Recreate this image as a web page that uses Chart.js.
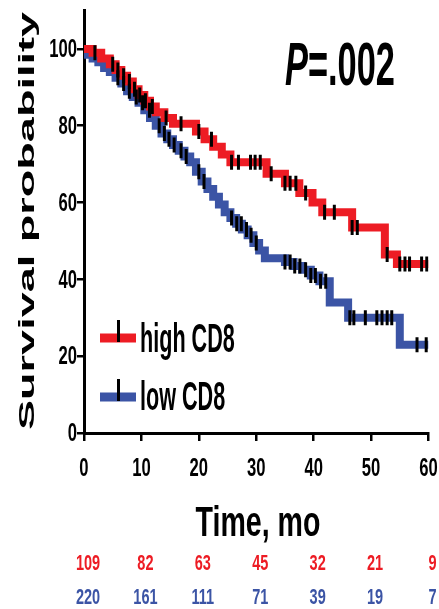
<!DOCTYPE html>
<html lang="en">
<head>
    <meta charset="UTF-8">
    <title>Survival by CD8</title>
    <script src="https://cdn.jsdelivr.net/npm/chart.js"></script>
    <style>
        body { margin: 0; background: #fff; }
        canvas { display: block; }
    </style>
</head>
<body>
    <canvas id="km" width="439" height="609"></canvas>

    <script>
        // Kaplan-Meier steps (time in months, survival in %)
        const highTime = [0, 1.5, 3, 4.5, 5.5, 6.5, 7.5, 8.5, 9.5, 10.5, 11.5, 12.5, 14, 15.5, 19.5, 21, 22.5, 24, 25.5, 31.8, 35, 37.5, 39.8, 41.5, 46.7, 52.4, 54.5, 60];
        const highSurv = [100, 99, 97.5, 96, 94.5, 93, 91.5, 89.5, 88, 86.5, 85, 83.5, 82, 80.5, 78.5, 76.5, 74.5, 72.5, 70.5, 67.5, 65, 62.5, 60, 57.5, 53.5, 46.5, 44, 44];
        const highCensor = [1.9, 5.0, 5.9, 6.9, 7.9, 8.8, 9.7, 10.7, 11.9, 14.3, 16.9, 20.0, 22.2, 25.7, 26.9, 29.0, 29.8, 30.7, 32.6, 35.0, 35.9, 36.9, 38.6, 41.9, 43.6, 46.7, 47.6, 52.8, 55.0, 55.9, 56.7, 58.8, 59.7];

        const lowTime = [0, 0.7, 1.5, 2.5, 3.5, 4.5, 5.5, 6.5, 7.5, 8.5, 9.5, 10.5, 11.5, 12.5, 13.5, 14.5, 15.5, 16.5, 17.5, 18.5, 19.5, 20.5, 21.5, 22.5, 23.5, 24.5, 25.5, 26.5, 27.5, 28.5, 29.5, 30.5, 31.5, 35, 36.5, 38, 39.5, 41, 42.8, 46, 55, 60];
        const lowSurv = [100, 98.5, 97.5, 96.5, 95, 94, 92.5, 91, 89, 87.5, 86, 84, 82, 80, 78, 76.5, 75, 73.5, 72, 70.5, 68, 65.5, 63.5, 61.5, 59.5, 57.5, 56, 54.5, 53, 51.5, 49.5, 47.5, 45.5, 44.5, 43.5, 42.5, 41, 39.5, 34, 30, 23, 23];
        const lowCensor = [5.9, 6.9, 7.9, 9.1, 10.2, 11.4, 13.1, 14.0, 14.8, 15.7, 16.9, 17.8, 20.0, 20.9, 25.7, 26.6, 27.4, 28.3, 29.1, 30.0, 35.0, 35.9, 36.7, 37.6, 38.6, 39.5, 40.3, 41.2, 42.1, 46.3, 47.0, 49.0, 51.0, 51.9, 52.8, 53.6, 58.0, 59.6];

        // number at risk
        const riskTimes = [0, 10, 20, 30, 40, 50, 60];
        const highRisk = [109, 82, 63, 45, 32, 21, 9];
        const lowRisk = [220, 161, 111, 71, 39, 19, 7];

        const yTicks = [0, 20, 40, 60, 80, 100];
        const xTicks = [0, 10, 20, 30, 40, 50, 60];

        const RED = '#ed1c24';
        const BLUE = '#3b54a5';
        const FONT = '"Liberation Sans", Arial, sans-serif';

        // survival value at time t (step function lookup)
        function survAt(times, surv, t) {
            let v = surv[0];
            for (let i = 0; i < times.length; i++) {
                if (times[i] <= t) v = surv[i];
            }
            return v;
        }

        function pts(times, surv) {
            return times.map((t, i) => ({ x: t, y: surv[i] }));
        }

        function censorPts(cens, times, surv) {
            return cens.map(t => ({ x: t, y: survAt(times, surv, t) }));
        }

        // squeezed bold text helper
        function txt(ctx, s, x, y, size, sx, align, color, baseline) {
            ctx.save();
            ctx.translate(x, y);
            ctx.scale(sx, 1);
            ctx.font = 'bold ' + size + 'px ' + FONT;
            ctx.textAlign = align;
            ctx.textBaseline = baseline || 'middle';
            ctx.fillStyle = color;
            ctx.fillText(s, 0, 0);
            ctx.restore();
        }

        const textPlugin = {
            id: 'kmText',
            afterDraw(chart) {
                const ctx = chart.ctx;
                const xs = chart.scales.x;
                const ys = chart.scales.y;

                // tick labels
                yTicks.forEach(v => txt(ctx, String(v), 77, ys.getPixelForValue(v) + 1, 26, 0.64, 'right', '#000'));
                xTicks.forEach(v => txt(ctx, String(v), xs.getPixelForValue(v), 469, 26, 0.64, 'center', '#000'));

                // y title, stretched along its length
                ctx.save();
                ctx.font = 'bold 22px ' + FONT;
                const w = ctx.measureText('Survival probability').width;
                ctx.translate(34, 221);
                ctx.rotate(-Math.PI / 2);
                ctx.scale(418 / w, 1);
                ctx.textAlign = 'center';
                ctx.textBaseline = 'alphabetic';
                ctx.fillStyle = '#000';
                ctx.fillText('Survival probability', 0, 0);
                ctx.restore();

                // x title
                txt(ctx, 'Time, mo', 258, 536, 42, 0.68, 'center', '#000', 'alphabetic');

                // P value
                ctx.save();
                ctx.font = 'italic bold 62px ' + FONT;
                const pw = ctx.measureText('P').width;
                ctx.font = 'bold 62px ' + FONT;
                const rw = ctx.measureText('=.002').width;
                const sx = 110 / (pw + rw);
                ctx.translate(285, 85);
                ctx.scale(sx, 1);
                ctx.fillStyle = '#000';
                ctx.textBaseline = 'alphabetic';
                ctx.textAlign = 'left';
                ctx.font = 'italic bold 62px ' + FONT;
                ctx.fillText('P', 0, 0);
                ctx.font = 'bold 62px ' + FONT;
                ctx.fillText('=.002', pw, 0);
                ctx.restore();

                // legend
                const legend = [
                    { label: 'high CD8', color: RED, y: 338, base: 352 },
                    { label: 'low CD8', color: BLUE, y: 397, base: 410 }
                ];
                legend.forEach(item => {
                    ctx.save();
                    ctx.strokeStyle = item.color;
                    ctx.lineWidth = 9;
                    ctx.beginPath();
                    ctx.moveTo(100, item.y);
                    ctx.lineTo(136, item.y);
                    ctx.stroke();
                    ctx.strokeStyle = '#000';
                    ctx.lineWidth = 3;
                    ctx.beginPath();
                    ctx.moveTo(118.5, item.y - 18);
                    ctx.lineTo(118.5, item.y + 4);
                    ctx.stroke();
                    ctx.restore();
                    txt(ctx, item.label, 140, item.base, 40, 0.54, 'left', '#000', 'alphabetic');
                });

                // numbers at risk
                riskTimes.forEach((t, i) => {
                    const px = xs.getPixelForValue(t) + 4;
                    txt(ctx, String(highRisk[i]), px, 564, 22, 0.66, 'center', RED);
                    txt(ctx, String(lowRisk[i]), px, 598, 22, 0.66, 'center', BLUE);
                });
            }
        };

        new Chart(document.getElementById('km'), {
            type: 'line',
            data: {
                datasets: [
                    {
                        label: 'high CD8 censored',
                        data: censorPts(highCensor, highTime, highSurv),
                        showLine: false,
                        pointStyle: 'line',
                        rotation: 90,
                        pointRadius: 7.5,
                        pointBorderColor: '#000',
                        pointBorderWidth: 3,
                        order: 0
                    },
                    {
                        label: 'low CD8 censored',
                        data: censorPts(lowCensor, lowTime, lowSurv),
                        showLine: false,
                        pointStyle: 'line',
                        rotation: 90,
                        pointRadius: 7.5,
                        pointBorderColor: '#000',
                        pointBorderWidth: 3,
                        order: 0
                    },
                    {
                        label: 'high CD8',
                        data: pts(highTime, highSurv),
                        stepped: true,
                        borderColor: RED,
                        borderWidth: 8,
                        pointRadius: 0,
                        fill: false,
                        order: 1
                    },
                    {
                        label: 'low CD8',
                        data: pts(lowTime, lowSurv),
                        stepped: true,
                        borderColor: BLUE,
                        borderWidth: 8,
                        pointRadius: 0,
                        fill: false,
                        order: 2
                    }
                ]
            },
            options: {
                responsive: false,
                animation: false,
                layout: { padding: { top: 8, right: 7, left: 0, bottom: 0 } },
                plugins: {
                    legend: { display: false },
                    tooltip: { enabled: false }
                },
                scales: {
                    x: {
                        type: 'linear',
                        min: 0,
                        max: 60,
                        ticks: { display: false, stepSize: 10 },
                        grid: { drawOnChartArea: false, drawTicks: true, tickLength: 8, color: '#000', lineWidth: 2.5 },
                        border: { display: true, color: '#000', width: 3 },
                        afterFit: s => { s.height = 609 - 433; }
                    },
                    y: {
                        min: 0,
                        max: 110,
                        ticks: { display: false, stepSize: 20, includeBounds: false },
                        grid: { drawOnChartArea: false, drawTicks: true, tickLength: 7, color: '#000', lineWidth: 2.5 },
                        border: { display: true, color: '#000', width: 3 },
                        afterFit: s => { s.width = 84; }
                    }
                }
            },
            plugins: [textPlugin]
        });
    </script>
</body>
</html>
